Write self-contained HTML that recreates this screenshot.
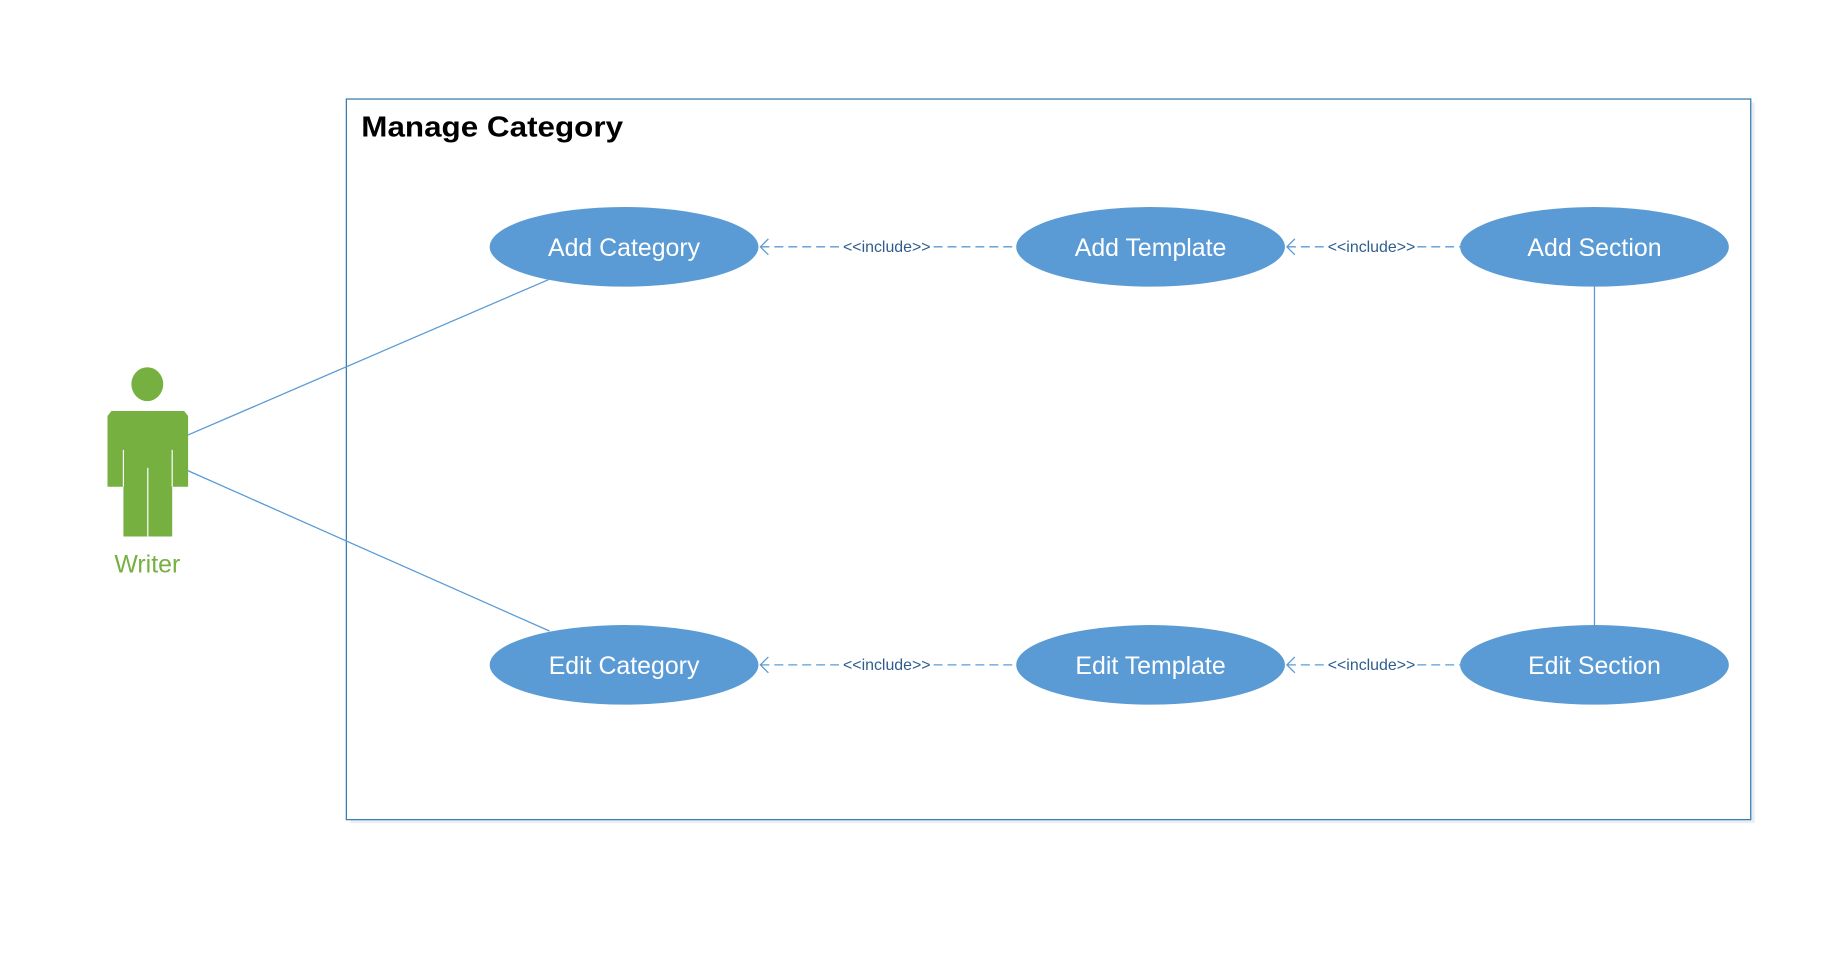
<!DOCTYPE html>
<html><head><style>html,body{margin:0;padding:0;background:#fff;}svg{display:block}</style></head>
<body>
<svg width="1828" height="955" viewBox="0 0 1828 955" xmlns="http://www.w3.org/2000/svg">
<g transform="scale(0.9953)">
<rect x="352" y="103" width="1411" height="724" fill="#e8eef5"/>
<rect x="348" y="99.5" width="1411" height="724" fill="#fff" stroke="#3b7fae" stroke-width="1.3"/>
<text x="363" y="137" font-family="Liberation Sans, sans-serif" font-weight="bold" font-size="29" textLength="263" lengthAdjust="spacingAndGlyphs" fill="#000">Manage Category</text>
<g stroke="#5b9bd5" stroke-width="1.3" fill="none">
<line x1="189" y1="437" x2="551" y2="281"/>
<line x1="189" y1="473" x2="552" y2="634"/>
<line x1="1602" y1="288" x2="1602" y2="628"/>
<g stroke-dasharray="9,5">
<line x1="764" y1="248" x2="845" y2="248"/><line x1="938" y1="248" x2="1021" y2="248"/>
<line x1="1293" y1="248" x2="1330" y2="248"/><line x1="1424" y1="248" x2="1467" y2="248"/>
<line x1="764" y1="668" x2="845" y2="668"/><line x1="938" y1="668" x2="1021" y2="668"/>
<line x1="1293" y1="668" x2="1330" y2="668"/><line x1="1424" y1="668" x2="1467" y2="668"/>
</g>
<polyline points="772,240 764,248 772,256"/><polyline points="1301,240 1293,248 1301,256"/>
<polyline points="772,660 764,668 772,676"/><polyline points="1301,660 1293,668 1301,676"/>
</g>
<g font-family="Liberation Sans, sans-serif" font-size="16" fill="#2e5d8e" text-anchor="middle">
<text x="891" y="253">&lt;&lt;include&gt;&gt;</text><text x="1378" y="253">&lt;&lt;include&gt;&gt;</text>
<text x="891" y="673">&lt;&lt;include&gt;&gt;</text><text x="1378" y="673">&lt;&lt;include&gt;&gt;</text>
</g>
<g fill="#5b9bd5">
<ellipse cx="627" cy="248" rx="135" ry="40"/><ellipse cx="1156" cy="248" rx="135" ry="40"/><ellipse cx="1602" cy="248" rx="135" ry="40"/>
<ellipse cx="627" cy="668" rx="135" ry="40"/><ellipse cx="1156" cy="668" rx="135" ry="40"/><ellipse cx="1602" cy="668" rx="135" ry="40"/>
</g>
<g font-family="Liberation Sans, sans-serif" font-size="25" fill="#fff" text-anchor="middle">
<text x="627" y="257">Add Category</text><text x="1156" y="257">Add Template</text><text x="1602" y="257">Add Section</text>
<text x="627" y="677">Edit Category</text><text x="1156" y="677">Edit Template</text><text x="1602" y="677">Edit Section</text>
</g>
<g fill="#76b041">
<ellipse cx="148" cy="386" rx="16" ry="17"/>
<path d="M112,413 H185 L189,418 V489 H173 V539 H124 V489 H108 V418 Z"/>
</g>
<g stroke="#fff" stroke-width="1.2">
<line x1="124" y1="452" x2="124" y2="489"/><line x1="173" y1="452" x2="173" y2="489"/><line x1="148.5" y1="470" x2="148.5" y2="539"/>
</g>
<text x="148" y="575" font-family="Liberation Sans, sans-serif" font-size="25" fill="#76b041" text-anchor="middle">Writer</text>
</g>
</svg>
</body></html>
